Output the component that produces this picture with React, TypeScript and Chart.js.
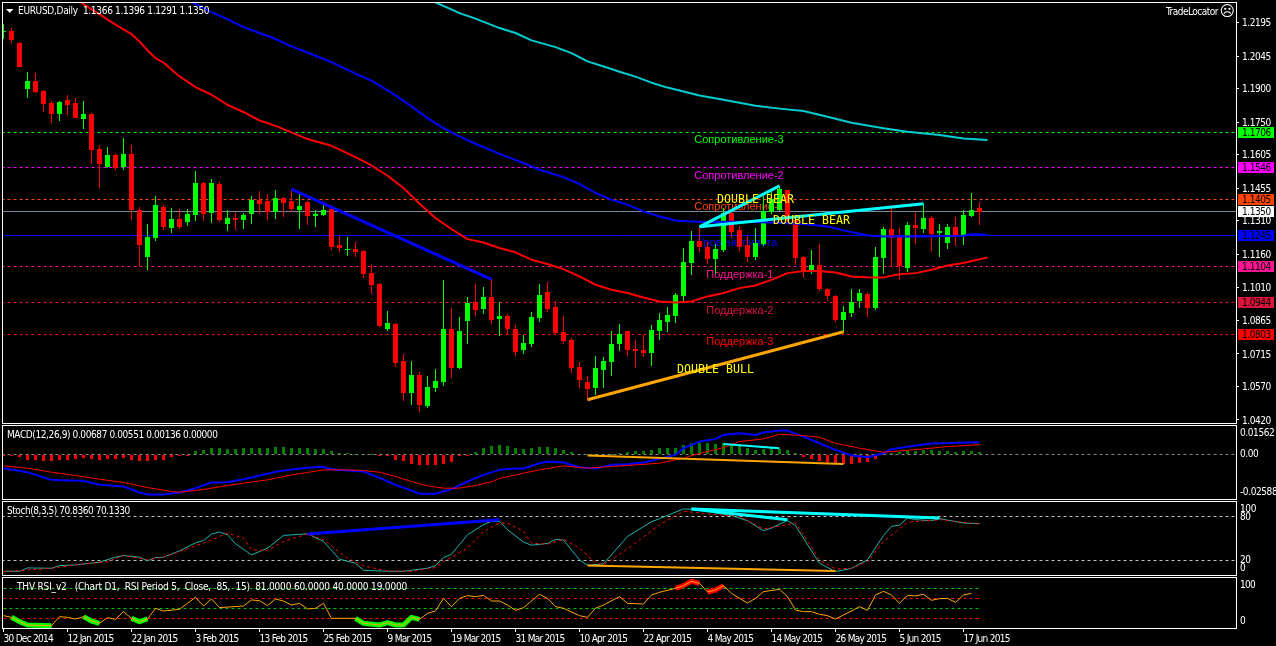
import React, { useEffect, useRef } from "react";
import { Chart, registerables } from "chart.js";

Chart.register(...registerables);

const opens = [
  1.2153,1.2159,1.2105,1.1900,1.1936,1.1891,1.1837,1.1788,1.1851,1.1837,
  1.1766,1.1788,1.1632,1.1551,1.1605,1.1551,1.1609,1.1359,1.1149,1.1234,
  1.1373,1.1279,1.1319,1.1306,1.1337,1.1480,1.1346,1.1475,1.1297,1.1323,
  1.1315,1.1341,1.1404,1.1399,1.1350,1.1413,1.1399,1.1359,1.1395,1.1332,
  1.1337,1.1364,1.1203,1.1181,1.1185,1.1176,1.1078,1.1029,1.0828,1.0850,
  1.0685,1.0542,1.0622,1.0484,1.0564,1.0591,1.0828,1.0653,1.0863,1.0948,
  1.0917,1.0971,1.0872,1.0886,1.0828,1.0734,1.0761,1.0877,1.0993,1.0926,
  1.0814,1.0778,1.0658,1.0591,1.0564,1.0644,1.0680,1.0761,1.0819,1.0738,
  1.0733,1.0720,1.0818,1.0858,1.0885,1.0975,1.1122,1.1220,1.1194,1.1140,
  1.1180,1.1345,1.1270,1.1202,1.1149,1.1207,1.1350,1.1359,1.1448,1.1314,
  1.1149,1.1091,1.1113,1.1006,1.0975,1.0867,1.0899,1.0952,1.0984,1.0921,
  1.1144,1.1274,1.1238,1.1100,1.1292,1.1274,1.1323,1.1256,1.1211,1.1283,
  1.1243,1.1332,1.1366,
];
const closes = [
  1.2156,1.2119,1.1998,1.1936,1.1886,1.1833,1.1788,1.1842,1.1828,1.1770,
  1.1788,1.1627,1.1565,1.1605,1.1547,1.1609,1.1359,1.1203,1.1239,1.1382,
  1.1283,1.1319,1.1283,1.1341,1.1480,1.1341,1.1480,1.1315,1.1323,1.1315,
  1.1337,1.1404,1.1386,1.1350,1.1413,1.1390,1.1364,1.1377,1.1332,1.1341,
  1.1359,1.1194,1.1190,1.1185,1.1172,1.1073,1.1024,1.0841,1.0854,1.0676,
  1.0542,1.0622,1.0488,1.0568,1.0595,1.0828,1.0653,1.0819,1.0944,1.0913,
  1.0971,1.0868,1.0886,1.0828,1.0725,1.0765,1.0881,1.0980,1.0917,1.0810,
  1.0774,1.0653,1.0600,1.0560,1.0653,1.0685,1.0761,1.0805,1.0734,1.0729,
  1.0720,1.0823,1.0867,1.0890,1.0979,1.1126,1.1220,1.1194,1.1140,1.1185,
  1.1345,1.1261,1.1194,1.1149,1.1211,1.1354,1.1408,1.1453,1.1314,1.1144,
  1.1091,1.1113,1.1006,1.0975,1.0867,1.0903,1.0948,1.0988,1.0921,1.1149,
  1.1274,1.1234,1.1109,1.1292,1.1278,1.1323,1.1252,1.1265,1.1283,1.1243,
  1.1337,1.1359,1.1350,
];
const highs = [
  1.2190,1.2172,1.2110,1.1976,1.1971,1.1895,1.1846,1.1846,1.1873,1.1860,
  1.1846,1.1793,1.1650,1.1641,1.1614,1.1681,1.1650,1.1373,1.1297,1.1422,
  1.1382,1.1368,1.1364,1.1364,1.1533,1.1484,1.1498,1.1484,1.1359,1.1346,
  1.1346,1.1422,1.1444,1.1431,1.1449,1.1417,1.1453,1.1431,1.1399,1.1359,
  1.1391,1.1382,1.1243,1.1239,1.1216,1.1181,1.1114,1.1033,1.0908,1.0854,
  1.0716,1.0685,1.0636,1.0618,1.0649,1.1047,1.0921,1.0881,1.0971,1.1029,
  1.1015,1.1051,1.0948,1.0895,1.0846,1.0801,1.0904,1.1029,1.1038,1.0953,
  1.0886,1.0787,1.0680,1.0618,1.0707,1.0702,1.0819,1.0850,1.0819,1.0778,
  1.0800,1.0845,1.0899,1.0925,1.0988,1.1189,1.1265,1.1287,1.1216,1.1207,
  1.1368,1.1359,1.1287,1.1243,1.1278,1.1426,1.1448,1.1466,1.1448,1.1319,
  1.1153,1.1180,1.1207,1.1010,1.0979,1.0930,1.1006,1.1006,1.0988,1.1194,
  1.1283,1.1381,1.1278,1.1305,1.1345,1.1386,1.1332,1.1296,1.1296,1.1328,
  1.1359,1.1435,1.1396,
];
const lows = [
  1.2122,1.2105,1.1998,1.1860,1.1882,1.1797,1.1748,1.1757,1.1784,1.1770,
  1.1721,1.1565,1.1457,1.1547,1.1538,1.1538,1.1315,1.1109,1.1091,1.1221,
  1.1270,1.1256,1.1274,1.1288,1.1310,1.1310,1.1301,1.1306,1.1265,1.1270,
  1.1274,1.1297,1.1341,1.1315,1.1319,1.1328,1.1350,1.1274,1.1292,1.1283,
  1.1332,1.1181,1.1172,1.1154,1.1149,1.1056,1.0984,1.0837,1.0819,1.0658,
  1.0506,1.0488,1.0457,1.0475,1.0546,1.0573,1.0609,1.0649,1.0761,1.0886,
  1.0895,1.0850,1.0796,1.0801,1.0707,1.0716,1.0747,1.0859,1.0904,1.0801,
  1.0761,1.0631,1.0564,1.0510,1.0533,1.0564,1.0618,1.0729,1.0707,1.0653,
  1.0702,1.0662,1.0778,1.0814,1.0854,1.0952,1.1068,1.1171,1.1118,1.1073,
  1.1171,1.1234,1.1176,1.1126,1.1135,1.1198,1.1341,1.1354,1.1305,1.1113,
  1.1055,1.1073,1.0997,1.0952,1.0858,1.0814,1.0881,1.0921,1.0881,1.0912,
  1.1073,1.1104,1.1046,1.1082,1.1207,1.1256,1.1176,1.1149,1.1185,1.1198,
  1.1202,1.1328,1.1291,
];

const dateLabels = [
  "30 Dec 2014","12 Jan 2015","22 Jan 2015","3 Feb 2015","13 Feb 2015","25 Feb 2015","9 Mar 2015","19 Mar 2015",
  "31 Mar 2015","10 Apr 2015","22 Apr 2015","4 May 2015","14 May 2015","26 May 2015","5 Jun 2015","17 Jun 2015",
];
const priceTicks = [1.2195,1.2045,1.19,1.175,1.1605,1.1455,1.131,1.116,1.101,1.0865,1.0715,1.057,1.042];

const redMaBars = [8,10,12,14,16,17,18,19,20,22,24,26,28,30,32,34,36,38,41,44,46,48,50,52,54,56,58,60,62,64,66,68,70,72,74,76,78,80,82,84,86,88,90,92,94,96,98,100,102,104,106,108,110,112,114,116,118,120,122,123];
const redMaValues = [1.2335,1.2278,1.2232,1.2186,1.2144,1.2111,1.2071,1.2037,1.2017,1.1955,1.1907,1.1873,1.1828,1.1796,1.1758,1.1734,1.1705,1.1675,1.1645,1.1594,1.1557,1.1511,1.1456,1.1386,1.1322,1.1273,1.1228,1.1213,1.1188,1.1169,1.1136,1.1117,1.1094,1.1061,1.1024,1.1002,1.0987,1.0967,1.0949,1.0945,1.0949,1.0972,1.0987,1.1009,1.1021,1.1046,1.1076,1.1086,1.1086,1.1079,1.1061,1.1058,1.1057,1.1071,1.1076,1.1091,1.1110,1.1121,1.1138,1.1146];
const blueMaBars = [22,23,26,28,30,32,34,36,38,41,44,46,47,49,51,53,55,57,59,62,65,67,70,72,74,76,78,80,82,84,86,88,92,96,100,103,105,108,110,115,120,121,123];
const blueMaValues = [1.2315,1.2297,1.2242,1.2211,1.2175,1.2149,1.2122,1.2089,1.2062,1.2019,1.1967,1.1936,1.1915,1.1870,1.1821,1.1769,1.1724,1.1687,1.1654,1.1609,1.1568,1.1538,1.1505,1.1475,1.1434,1.1404,1.1382,1.1352,1.1329,1.1311,1.1307,1.1304,1.1305,1.1302,1.1295,1.1284,1.1267,1.1244,1.1240,1.1240,1.1243,1.1250,1.1247];
const cyanMaBars = [53,54,57,59,62,64,66,69,71,73,76,77,79,81,83,87,90,94,97,100,103,106,110,113,117,120,123];
const cyanMaValues = [1.2297,1.2286,1.2238,1.2213,1.2171,1.2149,1.2116,1.2086,1.2059,1.2022,1.1988,1.1976,1.1954,1.1927,1.1905,1.1870,1.1851,1.1824,1.1811,1.1800,1.1775,1.1748,1.1723,1.1708,1.1693,1.1678,1.1671];

const levelNames = ["Сопротивление-3","Сопротивление-2","Сопротивление-1","Уровень пивота","Поддержка-1","Поддержка-2","Поддержка-3"];
const levelValues = [1.1706,1.1546,1.1405,1.1245,1.1104,1.0944,1.0803];
const levelColors = ["#00ff00","#ff00ff","#ff4500","#0000ff","#ff1493","#dc143c","#ff0000"];
const levelLabelBars = [86.35,86.35,86.35,86.7,87.85,87.85,87.85];
const levelLabelPrices = [1.1670,1.1511,1.1372,1.1211,1.1068,1.0907,1.0769];
const lastPrice = 1.135;

const patternNames = ["DOUBLE BEAR","DOUBLE BEAR","DOUBLE BULL"];
const patternBars = [89.2,96.2,84.2];
const patternPrices = [1.1403,1.1309,1.0642];

const macdHist = [
  -0.0002,-0.00096,-0.00172,-0.00325,-0.00344,-0.00382,-0.00382,-0.00344,-0.00325,-0.00267,
  -0.00229,-0.00287,-0.00325,-0.00267,-0.00248,-0.0021,-0.00344,-0.00401,-0.00401,-0.00325,
  -0.00306,-0.00134,-0.00057,-0.00019,0.0021,0.00248,0.00382,0.00344,0.00325,0.00325,
  0.00344,0.00363,0.00363,0.00363,0.0042,0.0042,0.00382,0.00363,0.00344,0.00306,
  0.00325,0.00191,0.00096,0.00057,0.00038,0.00038,0,-0.00019,-0.00057,-0.00325,
  -0.00401,-0.00535,-0.00592,-0.00611,-0.00611,-0.00535,-0.00439,-0.00057,-0.00038,0.00115,
  0.00363,0.00458,0.00535,0.00478,0.00363,0.00306,0.00363,0.0042,0.0042,0.00363,
  0.00248,0.00134,0.00019,0,0,0,0,0.00096,0.00153,0.00191,
  0.0021,0.00248,0.00344,0.00382,0.00382,0.00535,0.0063,0.00669,0.00649,0.00592,
  0.0063,0.00554,0.00497,0.00382,0.00248,0.00306,0.00344,0.00306,0.00248,0.00076,
  -0.00134,-0.00267,-0.00382,-0.00439,-0.00478,-0.00573,-0.00573,-0.00497,-0.0042,-0.00267,
  0.00038,0.00057,0.00115,0.00172,0.0021,0.00248,0.00248,0.00191,0.00191,0.00153,
  0.00172,0.00191,0.00136,
];
const macdBars = [0,3,6,8,10,12,15,17,18,20,22,24,26,28,30,32,34,36,38,40,41,43,45,47,49,51,52,54,56,58,60,62,64,65,67,68,70,72,74,76,78,80,82,84,85,87,89,90,92,94,95,97,98,100,102,104,106,108,110,111,114,116,122];
const macdValues = [-0.00802,-0.01031,-0.01471,-0.01509,-0.01528,-0.01757,-0.01853,-0.02197,-0.02311,-0.02311,-0.02197,-0.01948,-0.01624,-0.01604,-0.01433,-0.01222,-0.01012,-0.00879,-0.00783,-0.00726,-0.0086,-0.00936,-0.00993,-0.01356,-0.01757,-0.02082,-0.02273,-0.02273,-0.02006,-0.01566,-0.01184,-0.00898,-0.00821,-0.00821,-0.00516,-0.0042,-0.00478,-0.00745,-0.00821,-0.00611,-0.00573,-0.00478,-0.00267,-0.00038,0.00344,0.00726,0.00879,0.01108,0.01203,0.01108,0.01242,0.01356,0.01356,0.01012,0.0063,0.00248,-0.00076,-0.00172,0.00057,0.00287,0.00497,0.00611,0.00687];
const signalBars = [0,3,6,9,12,15,18,21,22,24,26,28,30,33,36,38,40,43,45,47,49,51,53,55,57,59,61,62,65,67,70,73,76,79,82,85,86,90,92,95,97,100,102,104,107,110,112,115,118,122];
const signalValues = [-0.00669,-0.00802,-0.01031,-0.01222,-0.01433,-0.01624,-0.0191,-0.02139,-0.02177,-0.02082,-0.01948,-0.01795,-0.01662,-0.01471,-0.01184,-0.01051,-0.00898,-0.00898,-0.00936,-0.01031,-0.0128,-0.01566,-0.01815,-0.01948,-0.01948,-0.01795,-0.01585,-0.01394,-0.01089,-0.00898,-0.00669,-0.00802,-0.00707,-0.00611,-0.00516,-0.00229,-0.00076,0.00382,0.00726,0.00879,0.01146,0.0107,0.00974,0.0063,0.00344,0.00115,0.00191,0.00306,0.00439,0.00551];

const stochKBars = [0,2,3,6,7,9,12,14,15,17,18,19,20,22,24,25,26,27,28,29,31,33,35,38,40,42,44,45,48,50,53,54,55,56,58,60,61,62,63,65,66,68,69,70,72,73,75,78,81,82,85,87,89,91,93,95,96,98,99,102,104,106,108,110,111,112,113,114,116,117,120,122];
const stochKValues = [4.65,4.65,9.3,8.84,12.56,13.49,17.2,24.2,26.5,24.2,19.1,23.7,24.2,33,44.2,47.4,56.3,59.1,55.3,42.8,27.4,36.7,54.4,56.7,46,21.4,15.8,6,4.65,4.65,8.84,12.56,23.7,28.4,55.3,69.3,74,74,62.3,45.1,40.9,43.3,49,47.9,20.5,13,14.9,53,73.5,77.7,91.2,90.2,85.6,81.9,74.9,60.9,64.6,75.3,67.9,15.8,4.2,8.8,20.5,54.4,67,68.8,78.6,76.3,74.9,77.7,71.6,70.8];
const stochDBars = [0,2,6,9,13,15,18,20,25,28,30,31,33,35,38,40,43,45,48,51,54,55,58,60,62,63,65,66,68,70,72,74,75,76,79,82,85,89,92,95,99,100,102,104,106,108,110,113,117,120,122];
const stochDValues = [4.2,5.6,8.84,13.5,18.1,26.5,20.5,24.2,43.7,57.7,50.7,34.4,33.5,46,56.7,48.4,22.8,12.1,5.1,4.65,9.8,18.1,36.7,60,71.6,71.6,60,43.7,42.3,49.3,36.7,16.7,13.5,20.5,43.7,69.3,87.9,83.3,80.9,63.3,71.6,55.3,20.5,7.9,8.8,18.1,46,72.6,76.3,72.6,70.1];

const rsiBars = [0,1,2,3,6,7,8,9,10,11,12,13,14,15,16,17,18,19,20,22,23,24,25,26,27,30,31,32,33,34,35,36,37,38,39,40,41,44,45,47,48,49,50,51,52,53,54,55,56,57,58,59,60,61,62,63,64,65,67,68,69,70,72,73,74,75,77,78,80,81,82,84,85,86,87,88,89,90,91,92,93,94,95,97,98,99,100,101,102,103,104,105,106,107,108,109,110,111,112,113,114,115,116,117,118,119,120,121];
const rsiValues = [24.5,21.1,12.1,5.2,3.8,22.4,21.1,17.6,22.4,13.5,8.7,20.4,16.9,32.8,19,12.1,17.6,39.7,34.1,37.6,50,62.4,44.5,59,41,44.5,56.9,55.5,45.2,59,54.8,46.5,50,38.3,39.7,50,19,19,8.7,5.2,10,5.2,5.2,21.1,16.9,29.3,34.1,60.3,43.1,60.3,65.8,63.8,66.5,54.8,54.8,46.5,35.5,41,68.6,60.3,43.1,39.7,24.5,21.1,39.7,46.5,63.8,50,48.6,67.2,72.7,81,86.5,95.5,91.3,73.4,77.6,86.5,70.7,60.3,50.7,60.3,74.1,78.9,63.8,36.2,32.8,32.8,27.3,24.5,17.6,25.9,34.1,43.1,35.5,67.2,74.8,67.2,50,66.5,65.2,68.6,56.2,59.6,60.3,52,67.2,70.7];
const rsiOversoldRanges = [[1,6],[10,12],[16,18],[44,52]];
const rsiOverboughtRanges = [[84,87],[88,90]];
const rsiLevels = [81,60,40,19];
const rsiLevelColors = ["#00c000","#ff0000","#00c000","#ff0000"];

const FONT = '"DejaVu Sans Condensed", "Liberation Sans", sans-serif';
const TEXT_SIZE = 10;
const XMIN = -0.0625;
const XMAX = 154.0625;

const pts = (bars: number[], vals: number[]) => bars.map((x, k) => ({ x, y: vals[k] }));
const line = (a: number, av: number, b: number, bv: number) => [{ x: a, y: av }, { x: b, y: bv }];

const lineDs = (data: any[], color: string, width: number, order: number, extra: any = {}) => ({
  type: "line", data, borderColor: color, borderWidth: width, pointRadius: 0, tension: 0, fill: false,
  order, borderJoinStyle: "round", ...extra,
});
const levelDs = (value: number, color: string, dash: number[], order: number, from = -1, to = 156) =>
  lineDs(line(from, value, to, value), color, 1, order, { borderDash: dash, crisp: true, borderCapStyle: "butt" });

const noPadding = (s: any) => {
  s.paddingTop = 0;
  s.paddingBottom = 0;
  s.paddingLeft = 0;
  s.paddingRight = 0;
};

const xScale = (show: boolean) => ({
  type: "linear", min: XMIN, max: XMAX, offset: false, display: show,
  grid: { display: show, drawOnChartArea: false, color: "#ffffff", tickColor: "#ffffff", tickLength: 4 },
  border: { display: false },
  afterBuildTicks: (s: any) => { s.ticks = dateLabels.map((_, k) => ({ value: k * 8 })); },
  afterFit: (s: any) => { s.height = show ? 18 : 0; noPadding(s); },
  ticks: {
    color: "#ffffff", font: { family: FONT, size: TEXT_SIZE }, align: "start", autoSkip: false,
    maxRotation: 0, minRotation: 0, padding: 1,
    callback: (v: number) => dateLabels[Math.round(v / 8)],
  },
});

const paneY = (min: number, max: number, height: number, labelVals: number[], labels: string[]) => {
  const u = (max - min) / height;
  return {
    type: "linear", min, max, position: "right",
    grid: { display: true, drawOnChartArea: false, drawTicks: false, tickLength: 0, color: "#ffffff" },
    border: { display: false },
    afterFit: (s: any) => { s.width = 40; noPadding(s); },
    afterBuildTicks: (s: any) => {
      s.ticks = labelVals.map((v) => ({ value: Math.max(min + 7 * u, Math.min(max - 7 * u, v)) }));
    },
    ticks: {
      color: "#ffffff", font: { family: FONT, size: TEXT_SIZE }, padding: 4, autoSkip: false,
      callback: (_: number, idx: number) => labels[idx],
    },
  };
};

const crispPlugin = (spacing: string) => ({
  id: "crisp",
  beforeDraw(chart: any) {
    chart.ctx.letterSpacing = spacing;
  },
  beforeDatasetDraw(chart: any, args: any) {
    const ds = chart.data.datasets[args.index];
    if (ds.crisp) for (const p of args.meta.data) p.y = Math.round(p.y - 0.5) + 0.5;
    if (ds.snap) {
      for (const b of args.meta.data) {
        const t = Math.round(Math.min(b.y, b.base));
        let e = Math.round(Math.max(b.y, b.base));
        if (e <= t) e = t + 1;
        b.y = t;
        b.base = e;
      }
    }
  },
});

const framePlugin = {
  id: "frame",
  afterDraw(chart: any) {
    const { ctx, chartArea: a } = chart;
    ctx.save();
    ctx.strokeStyle = "#ffffff";
    ctx.lineWidth = 1;
    ctx.strokeRect(a.left - 0.5, a.top - 0.5, a.right - a.left + 1, a.bottom - a.top + 1);
    ctx.restore();
  },
};

const paneLabel = (text: string, x: number, yOffset: number, spacing: string) => ({
  id: "paneLabel",
  afterDraw(chart: any) {
    const { ctx, chartArea: a } = chart;
    ctx.save();
    ctx.letterSpacing = spacing;
    ctx.fillStyle = "#ffffff";
    ctx.font = `${TEXT_SIZE}px ${FONT}`;
    ctx.textBaseline = "middle";
    ctx.fillText(text, x, a.top + yOffset);
    ctx.restore();
  },
});

const mainTexts = {
  id: "mainTexts",
  beforeDatasetsDraw(chart: any) {
    const { ctx, scales } = chart;
    ctx.save();
    ctx.letterSpacing = "0px";
    ctx.font = "11px 'Liberation Sans', sans-serif";
    ctx.textBaseline = "middle";
    levelNames.forEach((n, k) => {
      ctx.fillStyle = levelColors[k];
      ctx.fillText(n, scales.x.getPixelForValue(levelLabelBars[k]), scales.y.getPixelForValue(levelLabelPrices[k]));
    });
    ctx.restore();
  },
  afterDatasetsDraw(chart: any) {
    const { ctx, scales } = chart;
    ctx.save();
    ctx.letterSpacing = "0px";
    ctx.font = "11.6px 'DejaVu Sans Mono', monospace";
    ctx.textBaseline = "middle";
    ctx.fillStyle = "#ffff00";
    patternNames.forEach((n, k) => {
      ctx.fillText(n, scales.x.getPixelForValue(patternBars[k]), scales.y.getPixelForValue(patternPrices[k]));
    });
    ctx.restore();
  },
  afterDraw(chart: any) {
    const { ctx, scales, chartArea: a } = chart;
    ctx.save();
    // price tags
    ctx.font = `${TEXT_SIZE}px ${FONT}`;
    ctx.textBaseline = "middle";
    const tags = [...levelValues.map((v, k) => [v, levelColors[k]] as [number, string]), [lastPrice, "#ffffff"] as [number, string]];
    for (const [v, c] of tags) {
      const y = Math.round(scales.y.getPixelForValue(v) - 0.5);
      ctx.fillStyle = c;
      ctx.fillRect(a.right + 2, y - 5, 36, 11);
      ctx.fillStyle = "#000000";
      ctx.fillText(v.toFixed(4), a.right + 6, y + 1);
    }
    // header
    ctx.fillStyle = "#ffffff";
    ctx.beginPath();
    ctx.moveTo(6, 9);
    ctx.lineTo(13.5, 9);
    ctx.lineTo(9.75, 13);
    ctx.closePath();
    ctx.fill();
    ctx.letterSpacing = "-0.3px";
    ctx.fillText("EURUSD,Daily  1.1366 1.1396 1.1291 1.1350", 18, 11);
    ctx.letterSpacing = "-0.5px";
    ctx.fillText("TradeLocator", 1166, 12);
    ctx.letterSpacing = "0px";
    ctx.font = "15px 'DejaVu Sans', sans-serif";
    ctx.fillText("\u2639", 1219.5, 12);
    ctx.restore();
  },
};

const baseOptions = (top: number, bottom: number, scales: any) => ({
  responsive: false,
  maintainAspectRatio: false,
  animation: false,
  devicePixelRatio: 1,
  events: [],
  layout: { padding: { left: 3, right: 0, top, bottom } },
  plugins: { legend: { display: false }, tooltip: { enabled: false }, title: { display: false } },
  scales,
});

const HEIGHT = 646;

function mainConfig() {
  const bars = opens.map((_, i) => i);
  const candleColors = opens.map((o, i) => (closes[i] >= o ? "#00ff00" : "#ff0000"));
  return {
    type: "line",
    data: {
      datasets: [
        ...levelValues.map((v, k) => levelDs(v, levelColors[k], k === 3 ? [] : [3, 3], 12)),
        levelDs(lastPrice, "#778899", [], 12),
        {
          type: "bar", data: bars.map((i) => ({ x: i, y: [lows[i], highs[i]] })), backgroundColor: candleColors,
          barThickness: 1, grouped: false, order: 8, snap: true, inflateAmount: 0,
        },
        {
          type: "bar", data: bars.map((i) => ({ x: i, y: [Math.min(opens[i], closes[i]), Math.max(opens[i], closes[i])] })),
          backgroundColor: candleColors, barThickness: 5, grouped: false, order: 7, snap: true, inflateAmount: 0,
        },
        lineDs(pts(cyanMaBars, cyanMaValues), "#00ced1", 2, 5),
        lineDs(pts(blueMaBars, blueMaValues), "#0000ff", 2, 5),
        lineDs(pts(redMaBars, redMaValues), "#ff0000", 2, 5),
        lineDs(line(36, 1.1451, 61, 1.1048), "#0000ff", 3, 2),
        lineDs(line(73, 1.051, 105, 1.0814), "#ffa500", 3, 2),
        lineDs(line(87, 1.1283, 97, 1.1466), "#00ffff", 3, 2),
        lineDs(line(87, 1.1283, 115, 1.1386), "#00ffff", 3, 2),
      ],
    },
    options: baseOptions(3, HEIGHT - 423, {
      x: xScale(false),
      y: {
        type: "linear", min: 1.04063, max: 1.2283, position: "right",
        grid: { display: true, drawOnChartArea: false, color: "#ffffff", tickColor: "#ffffff", tickLength: 3 },
        border: { display: false },
        afterFit: (s: any) => { s.width = 40; noPadding(s); },
        afterBuildTicks: (s: any) => { s.ticks = priceTicks.map((v) => ({ value: v })); },
        ticks: {
          color: "#ffffff", font: { family: FONT, size: TEXT_SIZE }, padding: 3, autoSkip: false, labelOffset: 1,
          callback: (v: number) => v.toFixed(4),
        },
      },
    }),
    plugins: [crispPlugin("-0.45px"), mainTexts, framePlugin],
  };
}

function macdConfig() {
  const bars = macdHist.map((_, i) => i);
  return {
    type: "line",
    data: {
      datasets: [
        {
          type: "bar", data: bars.map((i) => ({ x: i, y: macdHist[i] })),
          backgroundColor: macdHist.map((v) => (v >= 0 ? "#008000" : "#ff0000")),
          barThickness: 3, grouped: false, order: 9, snap: true, inflateAmount: 0,
        },
        levelDs(0, "#808080", [3, 3], 8),
        lineDs(pts(macdBars, macdValues), "#0000ff", 2, 5),
        lineDs(pts(signalBars, signalValues), "#ff0000", 1, 4),
        lineDs(line(73, -0.00076, 105, -0.00554), "#ffa500", 2, 2),
        lineDs(line(90, 0.00592, 97, 0.00344), "#00ffff", 2, 2),
      ],
    },
    options: baseOptions(426, HEIGHT - 499, {
      x: xScale(false),
      y: paneY(-0.0257, 0.0162, 73, [0.0162, 0, -0.0257], ["0.01562", "0.00", "-0.02588"]),
    }),
    plugins: [crispPlugin("-0.4px"), paneLabel("MACD(12,26,9) 0.00687 0.00551 0.00136 0.00000", 7, 9.5, "-0.4px"), framePlugin],
  };
}

function stochConfig() {
  return {
    type: "line",
    data: {
      datasets: [
        levelDs(80, "#c0c0c0", [3, 3], 8),
        levelDs(20, "#c0c0c0", [3, 3], 8),
        lineDs(pts(stochKBars, stochKValues), "#20b2aa", 1, 5),
        lineDs(pts(stochDBars, stochDValues), "#ff0000", 1, 4, { borderDash: [3, 3] }),
        lineDs(line(38, 56.3, 62, 76.3), "#0000ff", 3, 2),
        lineDs(line(73, 12.6, 104, 5.1), "#ffa500", 2, 2),
        lineDs(line(86, 91.2, 117, 78.6), "#00ffff", 3, 2),
        lineDs(line(86, 91.2, 98, 76.3), "#00ffff", 3, 2),
      ],
    },
    options: baseOptions(502, HEIGHT - 575, {
      x: xScale(false),
      y: paneY(-0.5, 100.8, 73, [100, 80, 20, 0], ["100", "80", "20", "0"]),
    }),
    plugins: [crispPlugin("-0.4px"), paneLabel("Stoch(8,3,5) 70.8360 70.1330", 7, 9.5, "-0.45px"), framePlugin],
  };
}

function rsiConfig() {
  const rangeDs = (ranges: number[][], color: string) =>
    ranges.map(([a, b]) =>
      lineDs(
        rsiBars.flatMap((x, k) => (x >= a && x <= b ? [{ x, y: rsiValues[k] }] : [])),
        color, 5, 3,
      ),
    );
  return {
    type: "line",
    data: {
      datasets: [
        ...rsiLevels.map((v, k) => levelDs(v, rsiLevelColors[k], [3, 3], 8, 0, 122)),
        ...rangeDs(rsiOversoldRanges, "#00ff00"),
        ...rangeDs(rsiOverboughtRanges, "#ff0000"),
        lineDs(pts(rsiBars, rsiValues), "#ffa500", 1, 1),
      ],
    },
    options: baseOptions(578, 0, {
      x: xScale(true),
      y: paneY(-1, 102.3, 50, [100, 0], ["100", "0"]),
    }),
    plugins: [
      crispPlugin("-0.72px"),
      paneLabel("THV RSI_v2   (Chart D1,  RSI Period 5,  Close,  85,  15)  81.0000 60.0000 40.0000 19.0000", 17, 9.5, "-0.18px"),
      framePlugin,
    ],
  };
}

const Pane = ({ make }: { make: () => any }) => {
  const ref = useRef<HTMLCanvasElement | null>(null);
  useEffect(() => {
    if (!ref.current) return;
    const chart = new Chart(ref.current, make());
    return () => chart.destroy();
  }, [make]);
  return (
    <canvas
      ref={ref}
      width={1276}
      height={HEIGHT}
      style={{ position: "absolute", left: 0, top: 0, width: 1276, height: HEIGHT, display: "block" }}
    />
  );
};

export default function App() {
  return (
    <div style={{ position: "fixed", left: 0, top: 0, width: 1276, height: HEIGHT, background: "#000000", overflow: "hidden" }}>
      <Pane make={mainConfig} />
      <Pane make={macdConfig} />
      <Pane make={stochConfig} />
      <Pane make={rsiConfig} />
    </div>
  );
}
